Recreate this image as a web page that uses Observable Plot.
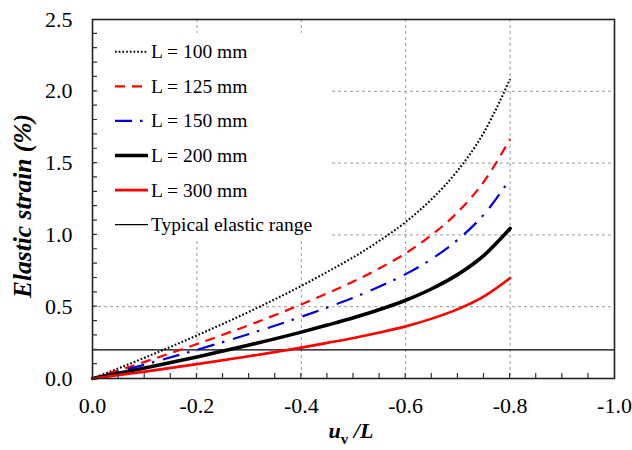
<!DOCTYPE html>
<html><head><meta charset="utf-8">
<script src="https://cdn.jsdelivr.net/npm/d3@7"></script>
<script src="https://cdn.jsdelivr.net/npm/@observablehq/plot@0.6"></script>
<style>
body{margin:0;background:#fff;}
#chart{width:632px;height:450px;}
</style></head><body>
<div id="chart"></div>
<script>
// u_v / L values (x) and elastic strain (%) per specimen length
const uL   = [0, -0.1, -0.2, -0.3, -0.4, -0.45, -0.5, -0.55, -0.6, -0.65, -0.7, -0.75, -0.8];
const L100 = [0, 0.145, 0.30, 0.465, 0.645, 0.743, 0.845, 0.96, 1.09, 1.25, 1.45, 1.715, 2.085];
const L125 = [0, 0.116, 0.24, 0.372, 0.516, 0.594, 0.676, 0.768, 0.872, 1.0, 1.16, 1.372, 1.668];
const L150 = [0, 0.097, 0.20, 0.31, 0.43, 0.495, 0.563, 0.64, 0.727, 0.833, 0.967, 1.143, 1.39];
const L200 = [0, 0.073, 0.15, 0.233, 0.323, 0.372, 0.423, 0.48, 0.545, 0.625, 0.725, 0.858, 1.045];
const L300 = [0, 0.048, 0.10, 0.155, 0.215, 0.248, 0.282, 0.32, 0.363, 0.417, 0.483, 0.572, 0.70];
const elasticLimit = 0.2;
const seriesNames = ["L = 100 mm", "L = 125 mm", "L = 150 mm", "L = 200 mm", "L = 300 mm"];
const elasticName = "Typical elastic range";
const xTicks = [0, -0.2, -0.4, -0.6, -0.8, -1.0];
const yTicks = [0, 0.5, 1.0, 1.5, 2.0, 2.5];
const xGrid = [-0.2, -0.4, -0.6, -0.8];
const yGrid = [0.5, 1.0, 1.5, 2.0];
const xMinor = d3.range(1, 20).map(i => -i * 0.05);
const yMinor = d3.range(1, 25).map(i => i * 0.1);

const styles = [
  {stroke: "#000", strokeWidth: 2.1, strokeDasharray: "1.7,2", strokeLinecap: "butt"},
  {stroke: "#ff0000", strokeWidth: 2.2, strokeDasharray: "10,7", strokeLinecap: "butt"},
  {stroke: "#0000dd", strokeWidth: 2.2, strokeDasharray: "17,8,2.5,9", strokeLinecap: "butt"},
  {stroke: "#000", strokeWidth: 3.6},
  {stroke: "#ff0000", strokeWidth: 2.6}
];
const allSeries = [L100, L125, L150, L200, L300];
const table = allSeries.map(s => uL.map((u, i) => ({u, v: s[i]})));

const chart = Plot.plot({
  width: 632, height: 450,
  marginLeft: 92, marginRight: 18, marginTop: 19, marginBottom: 72,
  style: {fontFamily: '"Liberation Serif", "Times New Roman", serif', fontSize: "22px", background: "#fff", color: "#000", overflow: "visible"},
  x: {domain: [0, -1]},
  y: {domain: [0, 2.5]},
  marks: [
    Plot.gridX(xGrid, {stroke: "#9a9a9a", strokeOpacity: 1, strokeDasharray: "3,3"}),
    Plot.gridY(yGrid, {stroke: "#9a9a9a", strokeOpacity: 1, strokeDasharray: "3,3"}),
    Plot.ruleY([elasticLimit], {stroke: "#000", strokeWidth: 1.3}),
    ...table.map((d, i) => Plot.line(d, {x: "u", y: "v", curve: "monotone-x", ...styles[i]})),
    Plot.axisX(xTicks, {tickSize: 0, tickPadding: 19, tickFormat: d => d.toFixed(1), label: null}),
    Plot.axisY(yTicks, {tickSize: 0, tickPadding: 20, tickFormat: d => d.toFixed(1), label: null}),
    Plot.frame({stroke: "#222", strokeWidth: 1.6})
  ]
});
document.getElementById("chart").appendChild(chart);

const svg = d3.select(chart);
const sx = chart.scale("x"), sy = chart.scale("y");
const fx = v => sx.apply(v), fy = v => sy.apply(v);
const serif = '"Liberation Serif", "Times New Roman", serif';

// legend
const lg = svg.append("g");
lg.append("rect").attr("x", 99).attr("y", 33).attr("width", 232).attr("height", 207).attr("fill", "#fff");
const rowY = i => 51.7 + i * 34.6;
seriesNames.forEach((name, i) => {
  const st = styles[i];
  lg.append("line").attr("x1", 115).attr("x2", 148).attr("y1", rowY(i)).attr("y2", rowY(i))
    .attr("stroke", st.stroke).attr("stroke-width", st.strokeWidth)
    .attr("stroke-dasharray", st.strokeDasharray || null);
  lg.append("text").attr("x", 151).attr("y", rowY(i)).attr("dy", "0.33em").attr("text-anchor", "start")
    .attr("font-family", serif).attr("font-size", 19.5).text(name);
});
lg.append("line").attr("x1", 115).attr("x2", 148).attr("y1", rowY(5)).attr("y2", rowY(5))
  .attr("stroke", "#000").attr("stroke-width", 1.3);
lg.append("text").attr("x", 151).attr("y", rowY(5)).attr("dy", "0.33em").attr("text-anchor", "start")
  .attr("font-family", serif).attr("font-size", 19.5).text(elasticName);

// inward minor ticks
const x0 = fx(0), y0 = fy(0);
let tickPath = "";
xMinor.forEach(v => { const px = fx(v); tickPath += `M${px},${y0}V${y0 - 5}`; });
yMinor.forEach(v => { const py = fy(v); tickPath += `M${x0},${py}H${x0 + 5}`; });
svg.append("path").attr("d", tickPath).attr("fill", "none").attr("stroke", "#333").attr("stroke-width", 1.2);

// axis titles
svg.append("text").attr("transform", "translate(31,206) rotate(-90)").attr("text-anchor", "middle")
  .attr("font-family", serif).attr("font-size", 25.5).attr("font-weight", "bold").attr("font-style", "italic")
  .text("Elastic strain (%)");
const xt = svg.append("text").attr("x", 351).attr("y", 438).attr("text-anchor", "middle")
  .attr("font-family", serif).attr("font-size", 22).attr("font-weight", "bold");
xt.append("tspan").attr("font-style", "italic").text("u");
xt.append("tspan").attr("font-size", 15).attr("dy", 6).text("v");
xt.append("tspan").attr("font-style", "italic").attr("dy", -6).text(" /L");
</script>
</body></html>
